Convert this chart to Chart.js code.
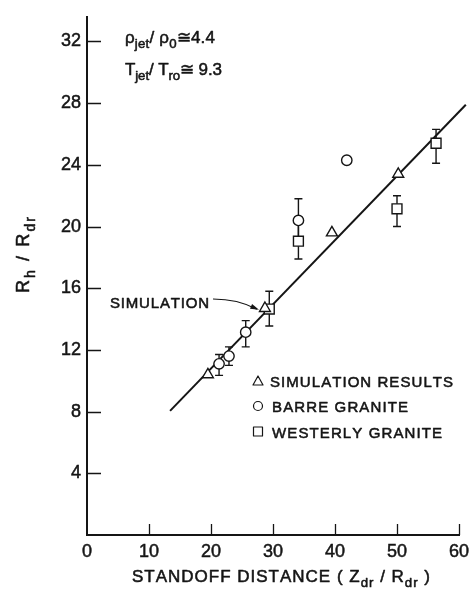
<!DOCTYPE html>
<html><head><meta charset="utf-8">
<script src="https://cdn.jsdelivr.net/npm/chart.js@4"></script>
<style>html,body{margin:0;padding:0;background:#fff}canvas{display:block}</style>
</head><body>
<canvas id="c" width="476" height="589"></canvas>
<script>
// ---- tick labels ----
const xTicks = [0, 10, 20, 30, 40, 50, 60];
const yTicks = [4, 8, 12, 16, 20, 24, 28, 32];

// ---- series: simulation results (triangles) ----
const simX = [19.5, 28.7, 39.5, 50.2];
const simY = [10.4, 14.7, 19.6, 23.4];

// ---- series: Barre granite (circles) with error ranges ----
const barreX  = [21.3, 22.9, 25.6, 34.1, 41.9];
const barreY  = [11.1, 11.6, 13.15, 20.4, 24.3];
const barreLo = [10.35, 11.0, 12.2, 19.0, null];
const barreHi = [11.7, 12.2, 13.9, 21.8, null];

// ---- series: Westerly granite (squares) with error ranges ----
const westX  = [29.4, 34.1, 50.0, 56.3];
const westY  = [14.65, 19.05, 21.15, 25.4];
const westLo = [13.55, 17.9, 20.0, 24.1];
const westHi = [15.8, 20.2, 22.0, 26.3];

// ---- simulation fit line ----
const fitX = [13.4, 61.1];
const fitY = [8.05, 27.9];

const INK = '#151515';
const FAM = '"Liberation Sans", Arial, sans-serif';

function pts(xs, ys) { return xs.map((x, i) => ({ x: x, y: ys[i] })); }

// draw text made of segments [text, isSub] with letter spacing stretched to target width
function drawRich(ctx, segs, x, y, size, target, align) {
  const chars = [];
  segs.forEach(([t, sub]) => {
    const fs = sub ? size * 0.78 : size;
    for (const ch of t) {
      ctx.font = fs + 'px ' + FAM;
      chars.push({ ch, font: ctx.font, w: ctx.measureText(ch).width, dy: sub ? size * 0.32 : 0 });
    }
  });
  const nat = chars.reduce((a, c) => a + c.w, 0);
  const extra = target && chars.length > 1 ? (target - nat) / (chars.length - 1) : 0;
  const total = target || nat;
  let cx = align === 'center' ? x - total / 2 : x;
  ctx.textAlign = 'left';
  ctx.textBaseline = 'alphabetic';
  ctx.fillStyle = INK;
  ctx.strokeStyle = INK;
  ctx.lineWidth = 0.55;
  ctx.lineJoin = 'round';
  chars.forEach(c => {
    ctx.font = c.font;
    ctx.fillText(c.ch, cx, y + c.dy);
    ctx.strokeText(c.ch, cx, y + c.dy);
    cx += c.w + extra;
  });
}

const decor = {
  id: 'decor',
  beforeDatasetsDraw(chart) {
    const ctx = chart.ctx, xs = chart.scales.x, ys = chart.scales.y;
    ctx.save();
    ctx.strokeStyle = INK;
    ctx.lineWidth = 1.4;
    const bar = (X, lo, hi) => {
      if (lo == null) return;
      const px = xs.getPixelForValue(X);
      const p1 = ys.getPixelForValue(lo), p2 = ys.getPixelForValue(hi);
      ctx.beginPath();
      ctx.moveTo(px, p1); ctx.lineTo(px, p2);
      ctx.moveTo(px - 4, p1); ctx.lineTo(px + 4, p1);
      ctx.moveTo(px - 4, p2); ctx.lineTo(px + 4, p2);
      ctx.stroke();
    };
    barreX.forEach((X, i) => bar(X, barreLo[i], barreHi[i]));
    westX.forEach((X, i) => bar(X, westLo[i], westHi[i]));
    ctx.restore();
  },
  afterDraw(chart) {
    const ctx = chart.ctx, xs = chart.scales.x, ys = chart.scales.y, a = chart.chartArea;
    ctx.save();
    ctx.strokeStyle = INK;
    ctx.lineWidth = 1.3;
    // inward tick marks
    ctx.beginPath();
    yTicks.forEach(v => { const p = Math.round(ys.getPixelForValue(v)) + 0.5; ctx.moveTo(a.left, p); ctx.lineTo(a.left + 14, p); });
    xTicks.forEach(v => { if (v === 0) return; const p = Math.round(xs.getPixelForValue(v)) + 0.5; ctx.moveTo(p, a.bottom); ctx.lineTo(p, a.bottom - 11); });
    ctx.stroke();

    // axis titles
    drawRich(ctx, [['STANDOFF DISTANCE ( Z', 0], ['dr', 1], [' / R', 0], ['dr', 1], [' )', 0]], 132, 582, 17, 298, 'left');
    ctx.save();
    ctx.translate(29, 255);
    ctx.rotate(-Math.PI / 2);
    drawRich(ctx, [['R', 0], ['h', 1], [' / R', 0], ['dr', 1]], 0, 0, 18, 76, 'center');
    ctx.restore();

    // conditions annotation
    drawRich(ctx, [['ρ', 0], ['jet', 1], ['/ ρ', 0], ['0', 1], ['≅4.4', 0]], 125, 43, 17, 90, 'left');
    drawRich(ctx, [['T', 0], ['jet', 1], ['/ T', 0], ['ro', 1], ['≅ 9.3', 0]], 125, 75, 17, 97, 'left');

    // SIMULATION label + arrow
    drawRich(ctx, [['SIMULATION', 0]], 110, 307.5, 15, 99, 'left');
    const tx = xs.getPixelForValue(simX[1]) - 8, ty = ys.getPixelForValue(simY[1]) + 1;
    ctx.lineWidth = 1.1;
    ctx.beginPath();
    ctx.moveTo(213, 299);
    ctx.quadraticCurveTo(238, 299, tx, ty);
    ctx.stroke();
    const ang = Math.atan2(ty - 302, tx - 240);
    ctx.fillStyle = INK;
    ctx.beginPath();
    ctx.moveTo(tx + 2, ty + 0.5);
    ctx.lineTo(tx + 2 - 9 * Math.cos(ang - 0.3), ty + 0.5 - 9 * Math.sin(ang - 0.3));
    ctx.lineTo(tx + 2 - 9 * Math.cos(ang + 0.3), ty + 0.5 - 9 * Math.sin(ang + 0.3));
    ctx.closePath();
    ctx.fill();

    // legend
    ctx.lineWidth = 1.2;
    const lx = 258;
    ctx.beginPath();
    ctx.moveTo(lx, 376); ctx.lineTo(lx + 5, 385); ctx.lineTo(lx - 5, 385); ctx.closePath();
    ctx.stroke();
    ctx.beginPath(); ctx.arc(lx, 406, 4.5, 0, Math.PI * 2); ctx.stroke();
    ctx.strokeRect(lx - 4.5, 427, 9, 9);
    drawRich(ctx, [['SIMULATION RESULTS', 0]], 270, 386.5, 15, 183, 'left');
    drawRich(ctx, [['BARRE GRANITE', 0]], 272, 411.5, 15, 136, 'left');
    drawRich(ctx, [['WESTERLY GRANITE', 0]], 272, 437.5, 15, 170, 'left');
    ctx.restore();
  }
};

new Chart(document.getElementById('c'), {
  type: 'scatter',
  data: {
    datasets: [
      { label: 'fit', type: 'line', data: pts(fitX, fitY), borderColor: INK, borderWidth: 2, pointRadius: 0, fill: false, clip: false, tension: 0, order: 5 },
      { label: 'SIMULATION RESULTS', data: pts(simX, simY), pointStyle: 'triangle', pointRadius: 6.3, borderColor: INK, backgroundColor: '#fff', borderWidth: 1.4, order: 1 },
      { label: 'BARRE GRANITE', data: pts(barreX, barreY), pointStyle: 'circle', pointRadius: 5.2, borderColor: INK, backgroundColor: '#fff', borderWidth: 1.4, order: 1 },
      { label: 'WESTERLY GRANITE', data: pts(westX, westY), pointStyle: 'rect', pointRadius: 7, borderColor: INK, backgroundColor: '#fff', borderWidth: 1.4, order: 1 }
    ]
  },
  options: {
    responsive: false,
    animation: false,
    devicePixelRatio: 1,
    layout: { padding: { top: 10, right: 17, left: 0, bottom: 0 } },
    plugins: { legend: { display: false }, tooltip: { enabled: false } },
    scales: {
      x: {
        type: 'linear', min: 0, max: 60,
        afterBuildTicks: s => { s.ticks = xTicks.map(v => ({ value: v })); },
        afterFit: s => { s.height = 54; },
        grid: { display: false, drawTicks: false },
        border: { display: true, color: INK, width: 2 },
        ticks: { font: { family: FAM, size: 18 }, color: INK, padding: 6, maxRotation: 0, autoSkip: false, textStrokeColor: INK, textStrokeWidth: 0.5 }
      },
      y: {
        type: 'linear', min: 0, max: 33.6,
        afterBuildTicks: s => { s.ticks = yTicks.map(v => ({ value: v })); },
        afterFit: s => { s.width = 87; },
        grid: { display: false, drawTicks: false },
        border: { display: true, color: INK, width: 2 },
        ticks: { font: { family: FAM, size: 18 }, color: INK, padding: 6, autoSkip: false, textStrokeColor: INK, textStrokeWidth: 0.5 }
      }
    }
  },
  plugins: [decor]
});
</script>
</body></html>
